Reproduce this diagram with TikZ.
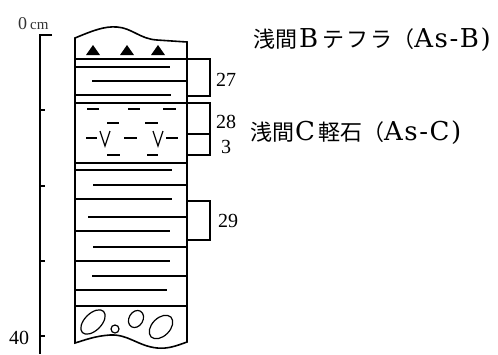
\documentclass[tikz,border=0pt]{standalone}
\usepackage{fontspec}
\setmainfont{Liberation Serif}
\newfontfamily\jpfont{Noto Sans CJK JP}
\newfontfamily\latfont[LetterSpace=6]{DejaVu Serif}
\usetikzlibrary{positioning}

\tikzset{
  layer/.style={line width=1.1pt},
  bracket/.style={line width=1.2pt},
  num/.style={font=\fontsize{20}{22}\selectfont, anchor=west, inner sep=0pt},
  tephra/.style={anchor=west, inner sep=0pt}
}
\newcommand{\jp}[1]{{\jpfont\fontsize{22}{25}\selectfont #1}}
\newcommand{\lat}[1]{{\latfont\fontsize{26}{29}\selectfont #1}}

\begin{document}
\begin{tikzpicture}[x=1pt, y=-1pt]
  \useasboundingbox (0,0) rectangle (498,354);

  % depth scale
  \draw[line width=1.6pt] (52,35) -- (40,35) -- (40,354);
  \foreach \yy in {110,186,261,336}
    \draw[line width=1.2pt] (40,\yy) -- (45,\yy);
  \node[anchor=south west, inner sep=0pt, text=black!80] (top) at (18,30)
    {\fontsize{18}{20}\selectfont 0\hspace{3pt}{\fontsize{15}{17}\selectfont cm}};
  \node[num] (bottom) at (9,338) {40};

  % column outline
  \draw[line width=1.6pt] (75,38) .. controls (92,31) and (104,26) .. (117,27)
    .. controls (132,28) and (140,39) .. (157,40) -- (187,42) -- (187,342)
    .. controls (176,346) and (168,349) .. (157,348)
    .. controls (138,346) and (128,334) .. (110,335)
    .. controls (95,336) and (85,340) .. (75,343) -- cycle;

  % As-B tephra
  \foreach \xx in {93,127,158}
    \fill (\xx-7,55) -- (\xx,45) -- (\xx+7,55) -- cycle;

  % full boundaries
  \foreach \yy in {59,103,163,306}
    \draw[line width=1.3pt] (75,\yy) -- (187,\yy);

  % laminae
  \foreach \yy/\xa/\xb in {67/75/170, 81/92/187, 95/75/171, 170/75/172,
      185/93/187, 199/75/172, 217/88/187, 231/75/170, 247/93/187,
      261/75/170, 276/92/187, 290/75/167}
    \draw[layer] (\xa,\yy) -- (\xb,\yy);

  % As-C pumice
  \foreach \yy/\xa/\xb in {109/87/99, 109/128/140, 109/163/176,
      123/107/119, 123/145/158,
      138/86/97, 138/124/137, 138/166/178,
      155/107/120, 155/147/158}
    \draw[line width=1.3pt] (\xa,\yy) -- (\xb,\yy);
  \foreach \xx in {105,158}
    \draw[line width=1.2pt] (\xx-5,131) -- (\xx,146) -- (\xx+5,131);

  % gravel
  \draw[line width=1.2pt] (93,322) ellipse [x radius=15, y radius=8.5, rotate=45];
  \draw[line width=1.2pt] (115,329) circle [radius=4];
  \draw[line width=1.2pt] (136,319) ellipse [x radius=9, y radius=7, rotate=60];
  \draw[line width=1.2pt] (161,327) ellipse [x radius=14, y radius=9, rotate=45];

  % sample brackets
  \draw[bracket] (187,59) -- (210,59) -- (210,96) -- (187,96);
  \draw[bracket] (187,103) -- (210,103) -- (210,155) -- (187,155);
  \draw[bracket] (187,134) -- (210,134);
  \draw[bracket] (187,201) -- (210,201) -- (210,240) -- (187,240);
  \node[num] (s27) at (216,80) {27};
  \node[num] (s28) at (216,122) {28};
  \node[num] (s3) at (221,147) {3};
  \node[num] (s29) at (218,221) {29};

  \node[tephra] (asb) at (253,40)
    {\jp{浅間}\hspace{2pt}\lat{B}\hspace{4pt}\jp{テ\hspace{2pt}フ\hspace{2pt}ラ（}\lat{As-B)}};
  \node[tephra] (asc) at (250,133)
    {\jp{浅間}\hspace{1pt}\lat{C}\hspace{3pt}\jp{軽石（}\lat{As-C)}};
\end{tikzpicture}
\end{document}
